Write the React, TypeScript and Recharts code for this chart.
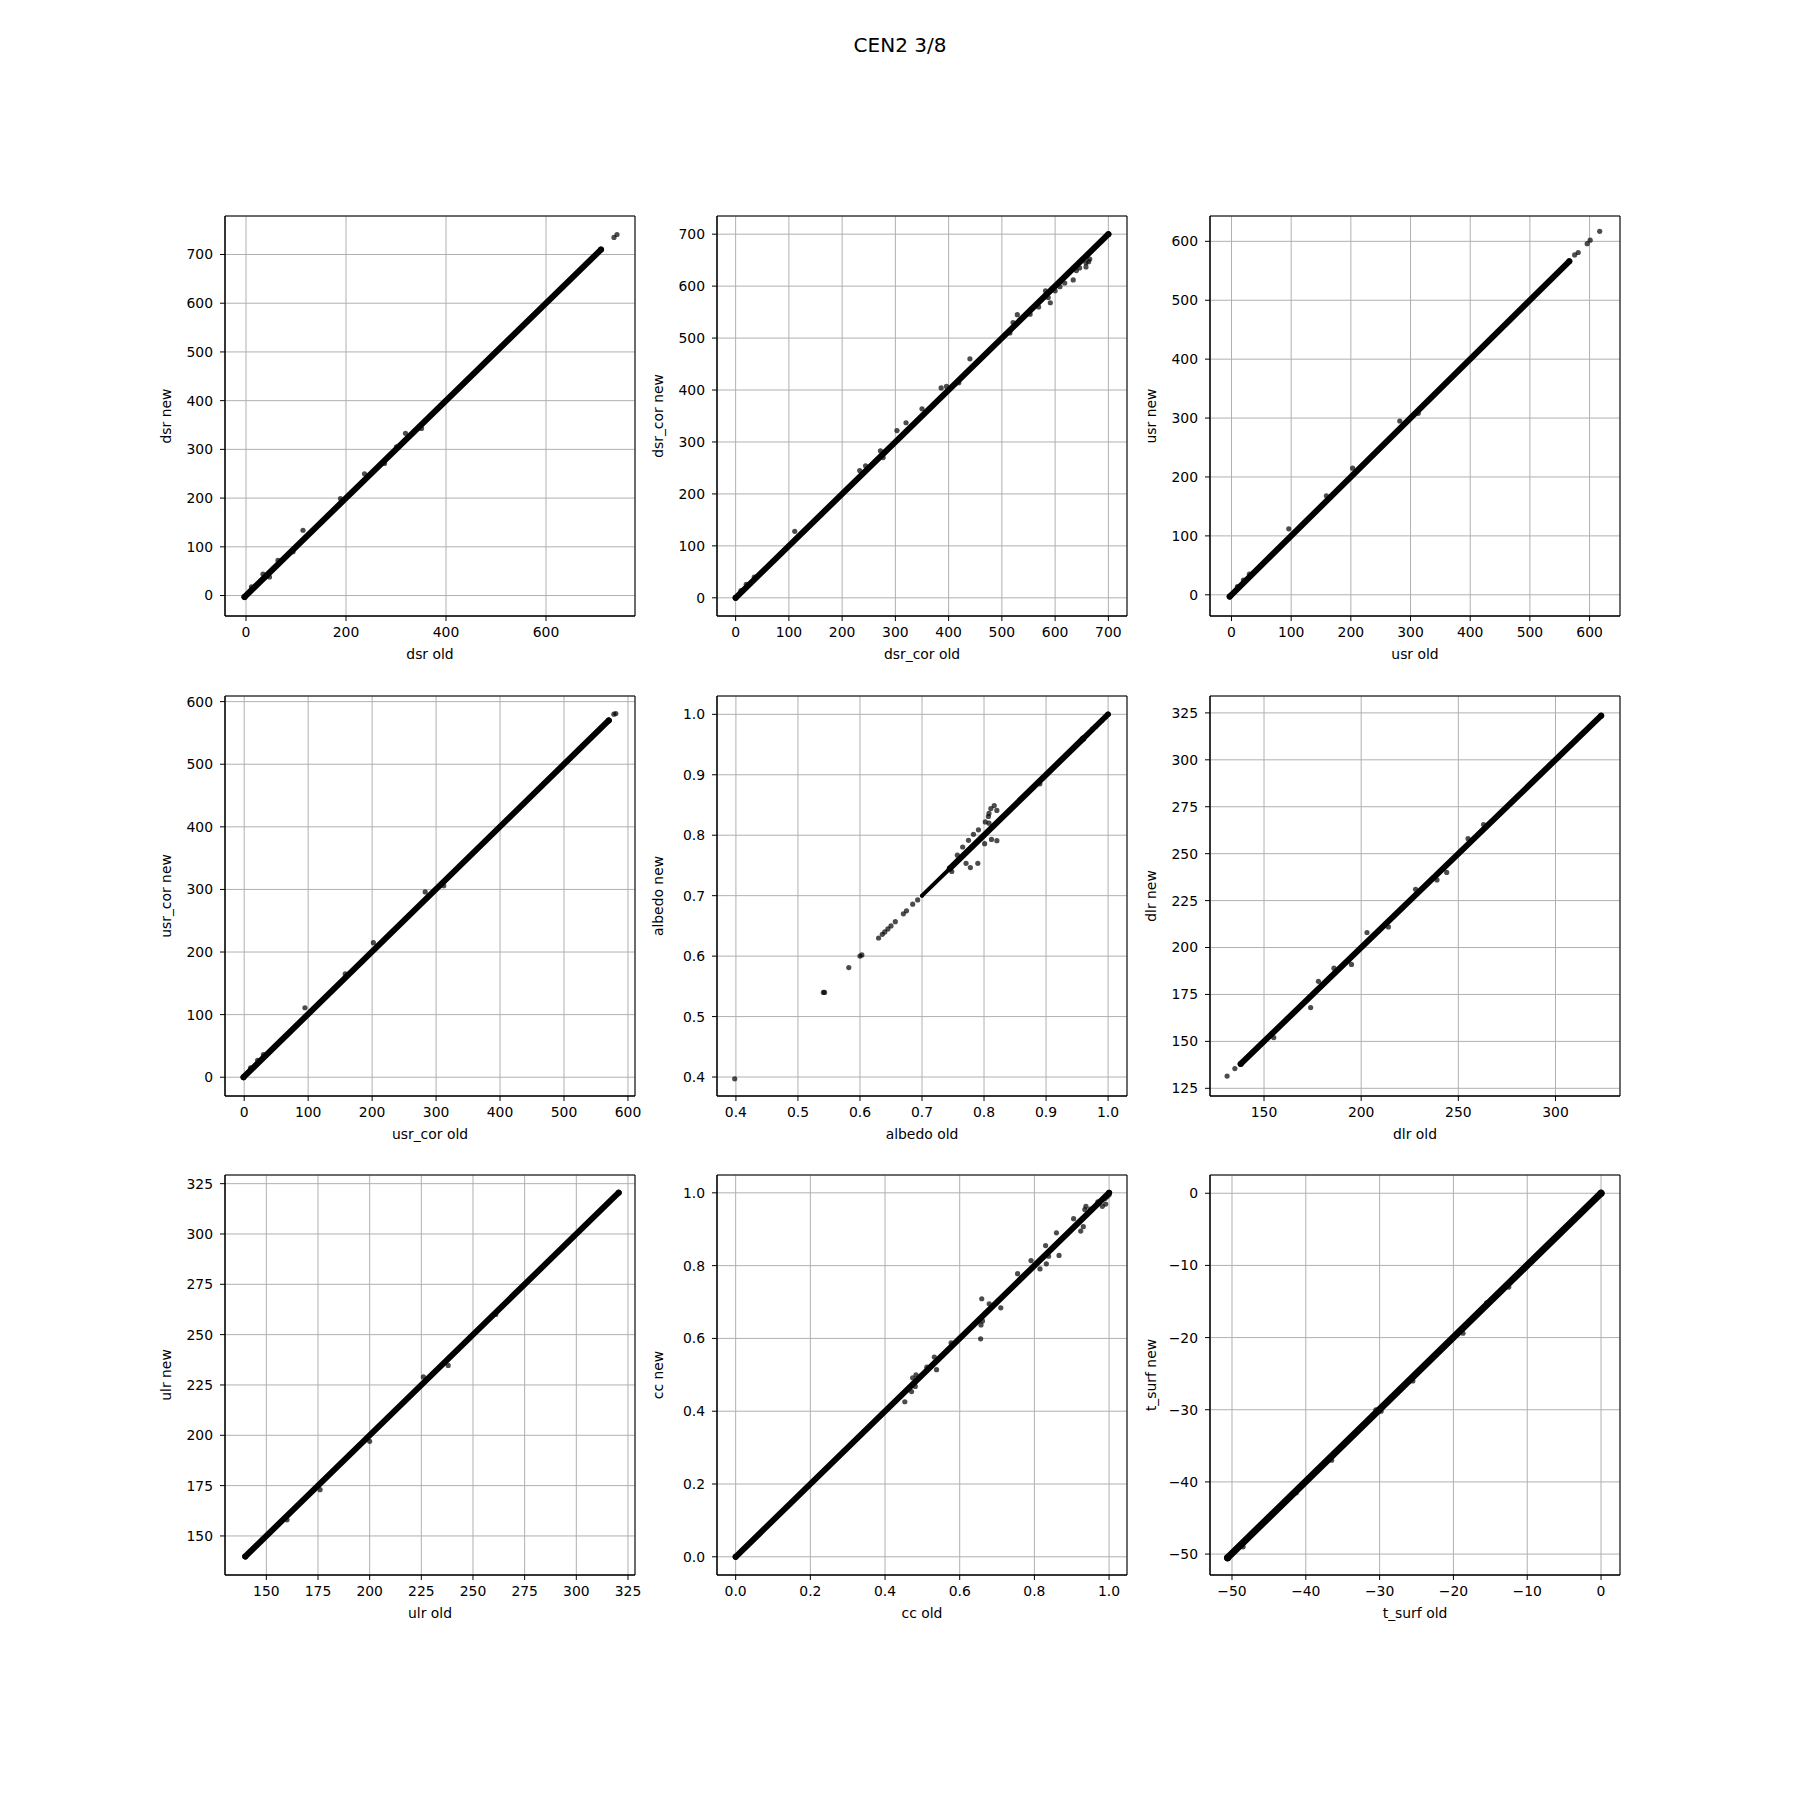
import React from "react"
import { CartesianGrid, ReferenceArea, Scatter, ScatterChart, XAxis, YAxis } from "recharts"

type Pt = [number, number]

// dsr
const dsrBand: Pt[] = [[-3, -3], [710, 710]]
const dsrPts: Pt[] = [
  [114, 134], [237, 250], [319, 333], [301, 305], [189, 199], [351, 343], [277, 271],
  [34, 44], [64, 72], [47, 38], [11, 18], [94, 90], [736, 735], [742, 741],
]

// dsr_cor
const dsrCorBand: Pt[] = [[0, 0], [700, 700]]
const dsrCorPts: Pt[] = [
  [111, 128], [440, 460], [386, 404], [396, 407], [350, 364], [320, 337], [303, 322],
  [272, 283], [244, 254], [233, 245], [277, 270], [419, 414], [529, 545], [521, 530],
  [515, 510], [553, 546], [569, 560], [582, 591], [587, 578], [591, 568], [600, 591],
  [609, 599], [618, 606], [634, 612], [640, 630], [646, 635], [658, 637], [658, 645],
  [665, 652], [663, 647], [10, 14], [20, 26], [35, 40],
]

// usr
const usrBand: Pt[] = [[-3, -3], [566, 566]]
const usrPts: Pt[] = [
  [617, 617], [601, 602], [596, 596], [581, 581], [575, 577], [96, 112], [203, 215],
  [282, 295], [313, 308], [159, 168], [10, 14], [20, 25], [30, 35],
]

// usr_cor
const usrCorBand: Pt[] = [[-1, 0], [570, 570]]
const usrCorPts: Pt[] = [
  [578, 580], [581, 581], [95, 111], [202, 215], [283, 296], [312, 306], [158, 165],
  [21, 27], [10, 15], [30, 36], [47, 48],
]

// albedo
const albedoBandThin: Pt[] = [[0.7, 0.7], [0.745, 0.745]]
const albedoBand: Pt[] = [[0.745, 0.745], [0.96, 0.96]]
const albedoBandTop: Pt[] = [[0.96, 0.96], [1.0, 1.0]]
const albedoPts: Pt[] = [
  [0.398, 0.397], [0.541, 0.54], [0.543, 0.54], [0.582, 0.581], [0.6, 0.6], [0.603, 0.602],
  [0.63, 0.63], [0.636, 0.636], [0.64, 0.64], [0.645, 0.645], [0.65, 0.65], [0.657, 0.657],
  [0.67, 0.67], [0.675, 0.675], [0.685, 0.686], [0.693, 0.693],
  [0.8165, 0.849], [0.811, 0.844], [0.8207, 0.841], [0.808, 0.836], [0.807, 0.831],
  [0.802, 0.822], [0.808, 0.82], [0.812, 0.793], [0.8207, 0.791], [0.79, 0.7535],
  [0.778, 0.7464], [0.771, 0.7535], [0.7656, 0.7805], [0.775, 0.7916], [0.783, 0.8015],
  [0.791, 0.809], [0.801, 0.786], [0.757, 0.767], [0.748, 0.74], [0.89, 0.885],
  [0.996, 0.996], [0.99, 0.99], [0.98, 0.98], [0.975, 0.976],
]

// dlr
const dlrBand: Pt[] = [[138, 138], [323.5, 323.5]]
const dlrPts: Pt[] = [
  [131, 131.5], [135, 135.5], [174, 168], [155, 152], [178, 182], [195, 191], [203, 208],
  [244, 240], [239, 236], [263, 265.5], [255, 258], [228, 231], [186, 189], [214, 211],
]

// ulr
const ulrBand: Pt[] = [[139.8, 139.8], [320.5, 320.5]]
const ulrPts: Pt[] = [[238, 234.7], [261, 260], [226, 229], [200, 197], [176, 173], [160, 158]]

// cc
const ccBand: Pt[] = [[0, 0], [1, 1]]
const ccPts: Pt[] = [
  [0.453, 0.426], [0.471, 0.454], [0.481, 0.468], [0.474, 0.492], [0.483, 0.5],
  [0.512, 0.521], [0.538, 0.514], [0.532, 0.549], [0.577, 0.588], [0.656, 0.599],
  [0.659, 0.709], [0.657, 0.637], [0.661, 0.648], [0.679, 0.695], [0.71, 0.684],
  [0.755, 0.778], [0.791, 0.814], [0.815, 0.791], [0.832, 0.805], [0.83, 0.855],
  [0.859, 0.89], [0.866, 0.828], [0.838, 0.826], [0.905, 0.929], [0.924, 0.895],
  [0.931, 0.907], [0.938, 0.963], [0.935, 0.954], [0.982, 0.963], [0.991, 0.969],
  [0.95, 0.955], [0.97, 0.975], [0.99, 0.985], [0.995, 0.99], [1.0, 0.995],
]

// t_surf
const tsBand: Pt[] = [[-50.6, -50.5], [0, 0]]
const tsPts: Pt[] = [
  [-18.7, -19.4], [-29.8, -30.2], [-41.3, -41.5], [-30.5, -30], [-15.5, -15.2],
  [-25.5, -26], [-36.5, -37], [-48.5, -49], [-12.5, -13],
]

const YW = 118
const XH = 76
const MT = 10
const MR = 12
const PW = 410
const PH = 400
const colLeft = [225, 717, 1210]
const rowTop = [216, 696, 1175]

const font = "DejaVu Sans"
const tickStyle = { fill: "#000", fontSize: 13.9, fontFamily: font }
const black = { stroke: "#000" }

const panels = [
  { name: "dsr", band: [{ d: dsrBand, w: 6 }], pts: dsrPts, xd: [-42, 778], yd: [-42, 779],
    xt: [0, 200, 400, 600], yt: [0, 100, 200, 300, 400, 500, 600, 700], dec: 0 },
  { name: "dsr_cor", band: [{ d: dsrCorBand, w: 6 }], pts: dsrCorPts, xd: [-35, 735], yd: [-35, 735],
    xt: [0, 100, 200, 300, 400, 500, 600, 700], yt: [0, 100, 200, 300, 400, 500, 600, 700], dec: 0 },
  { name: "usr", band: [{ d: usrBand, w: 6 }], pts: usrPts, xd: [-36, 651], yd: [-36, 643],
    xt: [0, 100, 200, 300, 400, 500, 600], yt: [0, 100, 200, 300, 400, 500, 600], dec: 0 },
  { name: "usr_cor", band: [{ d: usrCorBand, w: 6 }], pts: usrCorPts, xd: [-30, 611], yd: [-30, 609],
    xt: [0, 100, 200, 300, 400, 500, 600], yt: [0, 100, 200, 300, 400, 500, 600], dec: 0 },
  { name: "albedo", band: [{ d: albedoBandThin, w: 4 }, { d: albedoBand, w: 6 }, { d: albedoBandTop, w: 5.5 }],
    pts: albedoPts, xd: [0.3695, 1.0305], yd: [0.3686, 1.0303],
    xt: [0.4, 0.5, 0.6, 0.7, 0.8, 0.9, 1.0], yt: [0.4, 0.5, 0.6, 0.7, 0.8, 0.9, 1.0], dec: 1 },
  { name: "dlr", band: [{ d: dlrBand, w: 6 }], pts: dlrPts, xd: [122.2, 333.2], yd: [120.9, 334],
    xt: [150, 200, 250, 300], yt: [125, 150, 175, 200, 225, 250, 275, 300, 325], dec: 0 },
  { name: "ulr", band: [{ d: ulrBand, w: 6 }], pts: ulrPts, xd: [130, 328.4], yd: [130.6, 329.3],
    xt: [150, 175, 200, 225, 250, 275, 300, 325], yt: [150, 175, 200, 225, 250, 275, 300, 325], dec: 0 },
  { name: "cc", band: [{ d: ccBand, w: 6 }], pts: ccPts, xd: [-0.05, 1.048], yd: [-0.05, 1.049],
    xt: [0, 0.2, 0.4, 0.6, 0.8, 1.0], yt: [0, 0.2, 0.4, 0.6, 0.8, 1.0], dec: 1 },
  { name: "t_surf", band: [{ d: tsBand, w: 7 }], pts: tsPts, xd: [-52.98, 2.57], yd: [-52.9, 2.53],
    xt: [-50, -40, -30, -20, -10, 0], yt: [-50, -40, -30, -20, -10, 0], dec: 0 },
]

const toXY = (a: Pt[]) => a.map(([x, y]) => ({ x, y }))

function Panel({ p, i }: { p: (typeof panels)[number]; i: number }) {
  const fmt = (v: number) => v.toFixed(p.dec).replace("-", "\u2212")
  const left = colLeft[i % 3] - YW
  const top = rowTop[Math.floor(i / 3)] - MT
  return (
    <div style={{ position: "absolute", left, top }}>
      <ScatterChart width={YW + PW + MR} height={MT + PH + XH} margin={{ top: MT, right: MR, bottom: 0, left: 0 }}>
        <CartesianGrid stroke="#b0b0b0" strokeWidth={1} />
        <XAxis
          type="number"
          dataKey="x"
          domain={p.xd}
          ticks={p.xt}
          allowDataOverflow
          interval={0}
          height={XH}
          tickSize={5}
          tickMargin={6}
          tick={tickStyle}
          tickLine={black}
          axisLine={black}
          tickFormatter={fmt}
          label={{ value: p.name + " old", position: "center", fill: "#000", fontSize: 13.9, fontFamily: font }}
        />
        <YAxis
          type="number"
          dataKey="y"
          domain={p.yd}
          ticks={p.yt}
          allowDataOverflow
          interval={0}
          width={YW}
          tickSize={5}
          tickMargin={7}
          tick={tickStyle}
          tickLine={black}
          axisLine={black}
          tickFormatter={fmt}
          label={{ value: p.name + " new", angle: -90, position: "center", fill: "#000", fontSize: 13.9, fontFamily: font }}
        />
        {p.band.map((b, k) => (
          <Scatter
            key={"b" + k}
            data={toXY(b.d)}
            isAnimationActive={false}
            fill="#000"
            line={{ stroke: "#000", strokeWidth: b.w, strokeLinecap: "round" }}
            shape={(s: any) => <circle cx={s.cx} cy={s.cy} r={b.w / 2} fill="#000" />}
          />
        ))}
        <Scatter
          data={toXY(p.pts)}
          isAnimationActive={false}
          fill="#000"
          shape={(s: any) => <circle cx={s.cx} cy={s.cy} r={2.6} fill="#000" fillOpacity={0.7} />}
        />
        <ReferenceArea
          x1={p.xd[0]}
          x2={p.xd[1]}
          y1={p.yd[0]}
          y2={p.yd[1]}
          fill="none"
          fillOpacity={0}
          stroke="#000"
          strokeWidth={1}
          ifOverflow="visible"
        />
      </ScatterChart>
    </div>
  )
}

export default function App() {
  return (
    <div style={{ position: "absolute", left: 0, top: 0, width: 1800, height: 1800, background: "#fff" }}>
      <svg width={1800} height={80} style={{ position: "absolute", left: 0, top: 0 }}>
        <text x={900} y={52} textAnchor="middle" fontSize={20} fontFamily={font} fill="#000">
          CEN2 3/8
        </text>
      </svg>
      {panels.map((p, i) => (
        <Panel key={p.name} p={p} i={i} />
      ))}
    </div>
  )
}
